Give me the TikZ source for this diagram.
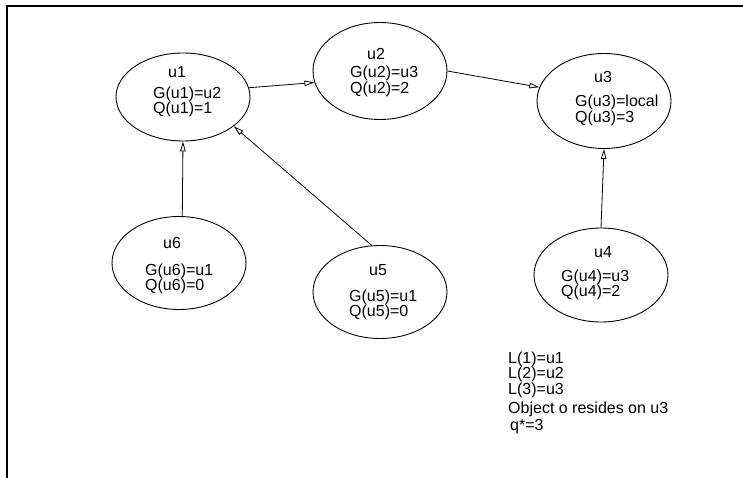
\documentclass[tikz,border=0pt]{standalone}
\usepackage{fontspec}
\setmainfont{Liberation Sans}
\usetikzlibrary{arrows.meta, shapes.geometric}

\tikzset{
    host/.style={draw, ellipse, line width=0.9pt, minimum width=134pt,
                 minimum height=#1, inner sep=0pt},
    txt/.style={anchor=base west, inner sep=0pt, text depth=0pt,
                font=\fontsize{16}{18}\selectfont},
    link/.style={-{Triangle[open, length=10pt, width=5.5pt]}, line width=0.8pt}
}

\begin{document}
\begin{tikzpicture}[x=1pt, y=-1pt]
    \useasboundingbox (0,0) rectangle (743,478);
    % frame
    \draw[line width=1.3pt] (7,478) -- (7,6) -- (743,6);

    % hosts
    \node[host=88pt] (u1) at (183,97) {};
    \node[host=97pt] (u2) at (380,71) {};
    \node[host=95pt] (u3) at (604,101) {};
    \node[host=93pt] (u6) at (179,263) {};
    \node[host=93pt] (u5) at (380,292) {};
    \node[host=94pt] (u4) at (601,275) {};

    % labels
    \node[txt] (u1n) at (168,78) {u1};
    \node[txt] (u1g) at (153,99) {G(u1)=u2};
    \node[txt] (u1q) at (153,114) {Q(u1)=1};

    \node[txt] (u2n) at (367,60) {u2};
    \node[txt] (u2g) at (350,78) {G(u2)=u3};
    \node[txt] (u2q) at (350,94) {Q(u2)=2};

    \node[txt] (u3n) at (594,83) {u3};
    \node[txt] (u3g) at (575,107) {G(u3)=local};
    \node[txt] (u3q) at (575,123) {Q(u3)=3};

    \node[txt] (u6n) at (163,248) {u6};
    \node[txt] (u6g) at (145,275) {G(u6)=u1};
    \node[txt] (u6q) at (145,290) {Q(u6)=0};

    \node[txt] (u5n) at (369,275) {u5};
    \node[txt] (u5g) at (349,301) {G(u5)=u1};
    \node[txt] (u5q) at (349,316) {Q(u5)=0};

    \node[txt] (u4n) at (594,257) {u4};
    \node[txt] (u4g) at (561,281) {G(u4)=u3};
    \node[txt] (u4q) at (561,296) {Q(u4)=2};

    % pointers
    \draw[link] (u1.8) -- (u2.190);
    \draw[link] (u2.east) -- (u3.168);
    \draw[link] (u6.86) -- (u1.south);
    \draw[link] (u5.100) -- (u1.-30);
    \draw[link] (u4.north) -- (u3.south);

    % notes
    \node[txt] (l1) at (508,363) {L(1)=u1};
    \node[txt] (l2) at (508,378) {L(2)=u2};
    \node[txt] (l3) at (508,394) {L(3)=u3};
    \node[txt] (obj) at (508,413) {Object o resides on u3};
    \node[txt] (qs) at (510,430) {q*=3};
\end{tikzpicture}
\end{document}
